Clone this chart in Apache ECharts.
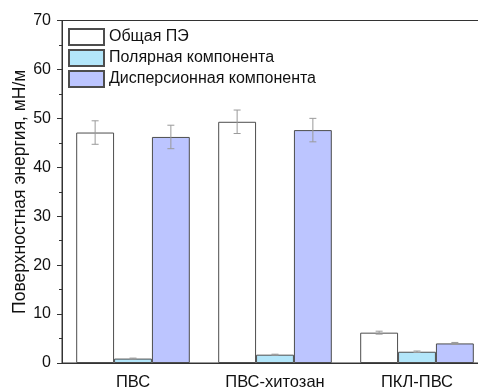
<!DOCTYPE html>
<html>
<head>
<meta charset="utf-8">
<script src="https://cdn.jsdelivr.net/npm/echarts@6/dist/echarts.min.js"></script>
<style>
  html, body { margin: 0; padding: 0; background: #fff; }
  #chart { width: 478px; height: 387px; }
</style>
</head>
<body>
<div id="chart"></div>
<script>
// Surface energy components of the films, mN/m
const categories = ['ПВС', 'ПВС-хитозан', 'ПКЛ-ПВС'];
const seriesNames = ['Общая ПЭ', 'Полярная компонента', 'Дисперсионная компонента'];
const totalEnergy = [47.1, 49.3, 6.2];
const totalErr = [2.4, 2.4, 0.3];
const polarPart = [0.9, 1.7, 2.3];
const polarErr = [0.1, 0.1, 0.15];
const dispersivePart = [46.2, 47.6, 4.0];
const dispersiveErr = [2.4, 2.4, 0.2];
const yTicks = [0, 10, 20, 30, 40, 50, 60, 70];

const fillColors = ['#ffffff', '#b3e6fa', '#bcc5ff'];
const FONT = 'Liberation Sans, Arial, sans-serif';
const CAT_GAP = 0.2;   // share of each category band left empty

const values = [totalEnergy, polarPart, dispersivePart];
const errors = [totalErr, polarErr, dispersiveErr];

function barSeries(i) {
  return {
    name: seriesNames[i],
    type: 'bar',
    xAxisIndex: 0,
    barGap: '0%',
    barCategoryGap: (CAT_GAP * 100) + '%',
    data: values[i],
    itemStyle: { color: fillColors[i], borderColor: '#4d4d4d', borderWidth: 1 },
    emphasis: { disabled: true },
    z: 2
  };
}

function errorSeries(i) {
  return {
    type: 'custom',
    xAxisIndex: 0,
    silent: true,
    z: 5,
    data: values[i].map((v, k) => [k, v, errors[i][k]]),
    renderItem: function (params, api) {
      const k = api.value(0);
      const v = api.value(1);
      const e = api.value(2);
      const band = api.size([1, 0])[0];
      const bw = band * (1 - CAT_GAP) / 3;
      const cx = api.coord([k, 0])[0] + (i - 1) * bw;
      const top = api.coord([k, v + e])[1];
      const bot = api.coord([k, v - e])[1];
      const cap = 3.5;
      const style = { stroke: '#9a9a9a', lineWidth: 1, fill: null };
      return {
        type: 'group',
        children: [
          { type: 'line', shape: { x1: cx, y1: top, x2: cx, y2: bot }, style: style },
          { type: 'line', shape: { x1: cx - cap, y1: top, x2: cx + cap, y2: top }, style: style },
          { type: 'line', shape: { x1: cx - cap, y1: bot, x2: cx + cap, y2: bot }, style: style }
        ]
      };
    }
  };
}

const chart = echarts.init(document.getElementById('chart'), null, { renderer: 'canvas' });

chart.setOption({
  animation: false,
  backgroundColor: '#ffffff',
  textStyle: { fontFamily: FONT },
  grid: {
    left: 62, top: 20.5, bottom: 24, right: -10,
    outerBoundsMode: 'none',
    containLabel: false,
    show: true, borderColor: '#333', borderWidth: 1, backgroundColor: 'transparent'
  },
  legend: {
    orient: 'vertical',
    left: 63, top: 23,
    itemWidth: 35, itemHeight: 16, itemGap: 3,
    icon: 'rect',
    selectedMode: false,
    textStyle: { fontFamily: FONT, fontSize: 16, color: '#111' },
    data: seriesNames
  },
  xAxis: [
    {
      type: 'category',
      data: categories,
      axisLine: { lineStyle: { color: '#333', width: 1 } },
      axisTick: { alignWithLabel: true, length: 5, lineStyle: { color: '#333' } },
      axisLabel: { fontFamily: FONT, fontSize: 16.5, color: '#111', margin: 11 }
    },
    {
      // short ticks on the category boundaries
      type: 'category',
      data: categories,
      position: 'bottom',
      axisLine: { show: false },
      axisTick: { length: 3, lineStyle: { color: '#333' } },
      axisLabel: { show: false }
    }
  ],
  yAxis: {
    type: 'value',
    min: yTicks[0],
    max: yTicks[yTicks.length - 1],
    interval: 10,
    name: 'Поверхностная энергия, мН/м',
    nameLocation: 'middle',
    nameGap: 33,
    nameMoveOverlap: false,
    nameTextStyle: { fontFamily: FONT, fontSize: 17.5, color: '#111' },
    axisLine: { show: true, lineStyle: { color: '#333', width: 1 } },
    axisTick: { show: true, length: 5, lineStyle: { color: '#333' } },
    minorTick: { show: true, splitNumber: 2, length: 3, lineStyle: { color: '#333' } },
    splitLine: { show: false },
    axisLabel: { fontFamily: FONT, fontSize: 16, color: '#111', margin: 11 }
  },
  series: [
    barSeries(0), barSeries(1), barSeries(2),
    errorSeries(0), errorSeries(1), errorSeries(2)
  ]
});
</script>
</body>
</html>
